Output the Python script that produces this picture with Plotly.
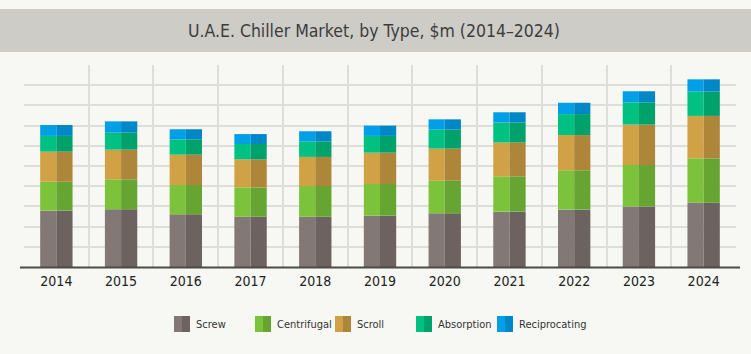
import plotly.graph_objects as go

years = ["2014", "2015", "2016", "2017", "2018", "2019", "2020", "2021", "2022", "2023", "2024"]
screw = [279, 286, 261, 249, 249, 254, 266, 274, 284, 300, 318]
centrifugal = [143, 148, 145, 145, 152, 157, 161, 175, 195, 205, 220]
scroll = [149, 147, 150, 139, 144, 155, 159, 167, 174, 200, 210]
absorption = [78, 84, 76, 76, 77, 83, 94, 99, 104, 110, 120]
reciprocating = [54, 56, 50, 49, 50, 51, 51, 51, 56, 55, 61]

series_names = ["Screw", "Centrifugal", "Scroll", "Absorption", "Reciprocating"]
series_values = [screw, centrifugal, scroll, absorption, reciprocating]
light_colors = ["#827876", "#7dc23b", "#d0a145", "#00c181", "#009fe6"]
dark_colors = ["#6c625f", "#66a532", "#ae863a", "#00a26c", "#0087c8"]

FONT = "DejaVu Sans Condensed, Liberation Sans Narrow, sans-serif"
BG = "#f7f7f3"
GRID = "#deded9"

xc = [i + 0.5 for i in range(len(years))]

fig = go.Figure()
base = [0] * len(years)
for name, vals, cl, cd in zip(series_names, series_values, light_colors, dark_colors):
    fig.add_bar(x=xc, y=vals, base=base, offset=-0.25, width=0.25,
                marker=dict(color=cl, line=dict(width=0)), name=name, showlegend=False,
                hovertemplate=name + ": %{y}<extra></extra>")
    fig.add_bar(x=xc, y=vals, base=base, offset=0.0, width=0.25,
                marker=dict(color=cd, line=dict(width=0)), name=name, showlegend=False,
                hovertemplate=name + ": %{y}<extra></extra>")
    base = [b + v for b, v in zip(base, vals)]

# plot area in pixels: left 24, right 736, top 65, bottom 267
L, R, T, B = 24, 736, 65, 267
W, H = R - L, B - T

def px_x(p):
    return (p - L) / W

def px_y(p):
    return (B - p) / H

shapes = []
# title band
shapes.append(dict(type="rect", xref="paper", yref="paper",
                   x0=px_x(0), x1=px_x(751), y0=px_y(52), y1=px_y(9),
                   fillcolor="#cdccc7", line=dict(width=0), layer="below"))
# axis line
shapes.append(dict(type="line", xref="paper", yref="paper",
                   x0=px_x(20), x1=px_x(740), y0=px_y(267.5), y1=px_y(267.5),
                   line=dict(color="#4a4a4a", width=2)))

annotations = []
# legend
legend_x = [174, 255, 335, 416, 497]
for name, lx, cl, cd in zip(series_names, legend_x, light_colors, dark_colors):
    shapes.append(dict(type="rect", xref="paper", yref="paper",
                       x0=px_x(lx), x1=px_x(lx + 8), y0=px_y(332), y1=px_y(316),
                       fillcolor=cl, line=dict(width=0)))
    shapes.append(dict(type="rect", xref="paper", yref="paper",
                       x0=px_x(lx + 8), x1=px_x(lx + 16), y0=px_y(332), y1=px_y(316),
                       fillcolor=cd, line=dict(width=0)))
    annotations.append(dict(text=name, xref="paper", yref="paper",
                            x=px_x(lx + 20), y=px_y(324), xanchor="left", yanchor="middle",
                            showarrow=False, font=dict(family=FONT, size=11, color="#333333")))

fig.update_layout(
    width=751, height=354,
    margin=dict(l=L, r=751 - R, t=T, b=354 - B),
    paper_bgcolor=BG, plot_bgcolor=BG,
    barmode="overlay",
    showlegend=False,
    title=dict(text="U.A.E. Chiller Market, by Type, $m (2014–2024)",
               xref="container", yref="container", x=0.498, y=1 - 31 / 354,
               xanchor="center", yanchor="middle",
               font=dict(family=FONT, size=17.5, color="#3d3d3d")),
    xaxis=dict(range=[0, len(years)], tickmode="array", tickvals=xc, ticktext=years,
               showgrid=False, zeroline=False, showline=False, ticks="",
               ticklabelstandoff=4,
               tickfont=dict(family=FONT, size=14, color="#222222"),
               minor=dict(tick0=0, dtick=1, showgrid=True, gridcolor=GRID, gridwidth=1.5, ticks=""),
               fixedrange=True),
    yaxis=dict(range=[0, 1000], dtick=100, tick0=0, showgrid=True, gridcolor=GRID, gridwidth=1.5,
               zeroline=False, showticklabels=False, ticks="", fixedrange=True),
    shapes=shapes,
    annotations=annotations,
)

fig.write_html("out.html")
